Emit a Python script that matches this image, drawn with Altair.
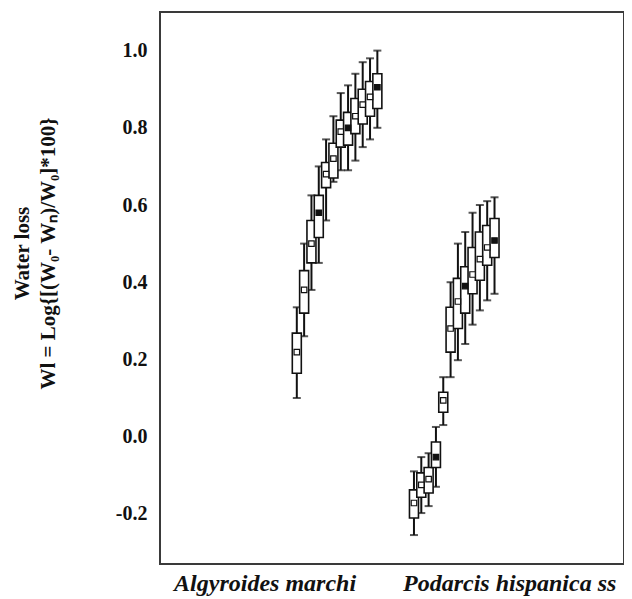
import altair as alt
import pandas as pd

# ---- data ----
species = ["Algyroides marchi", "Podarcis hispanica ss"]
group_start = [18.0, 34.0]          # position of first box of each species (axis units)
label_pos = [13.6, 47.0]            # where the species label is written

alg_lo  = [0.10, 0.26, 0.38, 0.45, 0.56, 0.66, 0.69, 0.69, 0.715, 0.75, 0.77, 0.80]
alg_q1  = [0.164, 0.32, 0.45, 0.516, 0.645, 0.67, 0.75, 0.755, 0.785, 0.81, 0.83, 0.85]
alg_med = [0.219, 0.38, 0.50, 0.58, 0.68, 0.72, 0.79, 0.80, 0.83, 0.86, 0.88, 0.905]
alg_q3  = [0.268, 0.43, 0.56, 0.625, 0.71, 0.76, 0.82, 0.84, 0.876, 0.90, 0.92, 0.94]
alg_hi  = [0.335, 0.50, 0.625, 0.70, 0.77, 0.83, 0.89, 0.91, 0.94, 0.97, 0.98, 1.00]
alg_dark = [0, 0, 0, 1, 0, 0, 0, 1, 0, 0, 0, 1]

pod_lo  = [-0.255, -0.198, -0.18, -0.13, 0.03, 0.154, 0.198, 0.24, 0.29, 0.327, 0.353, 0.37]
pod_q1  = [-0.211, -0.157, -0.146, -0.08, 0.063, 0.219, 0.28, 0.32, 0.37, 0.405, 0.444, 0.464]
pod_med = [-0.172, -0.125, -0.11, -0.053, 0.094, 0.28, 0.35, 0.39, 0.42, 0.46, 0.49, 0.508]
pod_q3  = [-0.138, -0.094, -0.08, -0.014, 0.115, 0.335, 0.41, 0.44, 0.49, 0.53, 0.547, 0.565]
pod_hi  = [-0.09, -0.053, -0.043, 0.025, 0.154, 0.40, 0.50, 0.53, 0.58, 0.60, 0.61, 0.62]
pod_dark = [0, 0, 0, 1, 0, 0, 0, 1, 0, 0, 0, 1]

y_ticks = [-0.2, 0.0, 0.2, 0.4, 0.6, 0.8, 1.0]

rows = []
for g, (lo, q1, md, q3, hi, dk) in enumerate([
        (alg_lo, alg_q1, alg_med, alg_q3, alg_hi, alg_dark),
        (pod_lo, pod_q1, pod_med, pod_q3, pod_hi, pod_dark)]):
    for i in range(len(md)):
        rows.append(dict(species=species[g], pos=group_start[g] + i,
                         lo=lo[i], q1=q1[i], med=md[i], q3=q3[i], hi=hi[i],
                         dark="y" if dk[i] else "n"))
df = pd.DataFrame(rows)

xscale = alt.Scale(domain=[0, 62], nice=False, zero=False)
yscale = alt.Scale(domain=[-0.33, 1.1], nice=False, zero=False)

label_expr = "datum.value < 30 ? '%s' : '%s'" % (species[0], species[1])

x_axis = alt.Axis(values=label_pos, labelExpr=label_expr, title=None,
                  domain=False, ticks=False, grid=False, labelPadding=7,
                  labelFont="Liberation Serif", labelFontSize=24, labelLimit=400,
                  labelFontWeight="bold", labelFontStyle="italic",
                  labelColor="#111")
y_axis = alt.Axis(values=y_ticks,
                  labelExpr="replace(format(datum.value, '.1f'), '\u2212', '-')",
                  domain=False, ticks=False, grid=False, labelPadding=13,
                  labelFont="Liberation Serif", labelFontSize=20,
                  labelFontWeight="bold", labelColor="#111",
                  title=["Water loss", "Wl = Log{[(W\u2080- W\u2099)/W\u2080]*100}"],
                  titleFont="Liberation Serif", titleFontSize=21,
                  titleFontWeight="bold", titleColor="#111",
                  titleX=-128, titleY=241, titleAngle=270, titleAlign="center",
                  titleBaseline="bottom", titleLineHeight=26)

base = alt.Chart(df)
X = alt.X("pos:Q", scale=xscale, axis=x_axis)

whisk = base.mark_rule(color="#111", strokeWidth=2).encode(
    x=X, y=alt.Y("lo:Q", scale=yscale, axis=y_axis), y2="hi:Q")
cap_lo = base.mark_tick(orient="horizontal", size=8, thickness=2, color="#111").encode(
    x=X, y=alt.Y("lo:Q", scale=yscale))
cap_hi = base.mark_tick(orient="horizontal", size=8, thickness=2, color="#111").encode(
    x=X, y=alt.Y("hi:Q", scale=yscale))
box = base.mark_bar(size=9, fill="white", stroke="#111", strokeWidth=1.6).encode(
    x=X, y=alt.Y("q1:Q", scale=yscale), y2="q3:Q")
med = base.mark_point(shape="square", size=30, stroke="#111", strokeWidth=1.2,
                      filled=False, opacity=1).encode(
    x=X, y=alt.Y("med:Q", scale=yscale),
    fill=alt.Fill("dark:N", scale=alt.Scale(domain=["n", "y"], range=["white", "#111"]),
                  legend=None))

chart = alt.layer(whisk, cap_lo, cap_hi, box, med).properties(
    width=464, height=552,
    autosize=alt.AutoSizeParams(type="none"),
    padding={"left": 152, "top": 4, "right": 0, "bottom": 35},
).configure_view(stroke="#3a3a3a", strokeWidth=2)

chart.save("out.html", embed_options={"renderer": "svg", "actions": False})
